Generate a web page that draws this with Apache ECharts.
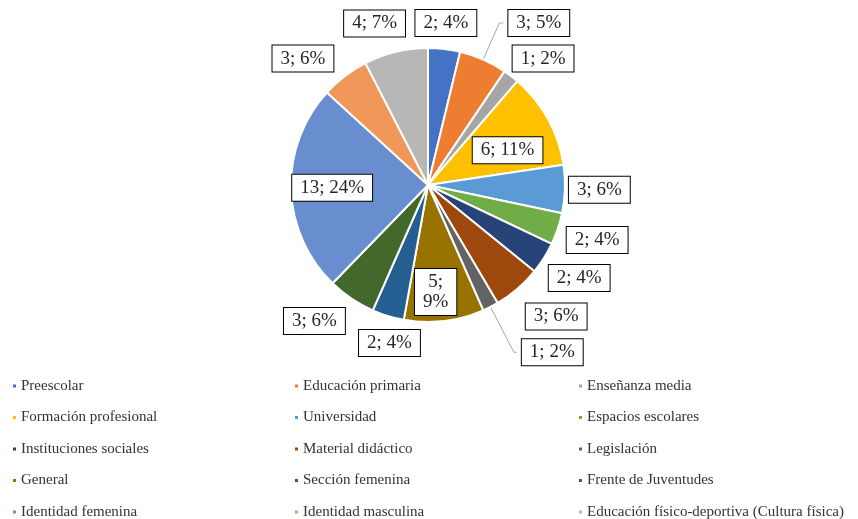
<!DOCTYPE html>
<html>
<head>
<meta charset="utf-8">
<script src="https://cdn.jsdelivr.net/npm/echarts@6/dist/echarts.min.js"></script>
<style>
html,body{margin:0;padding:0;background:#fff;}
#main{width:858px;height:519px;}
</style>
</head>
<body>
<div id="main"></div>
<script>
const categories = [
  'Preescolar', 'Educación primaria', 'Enseñanza media',
  'Formación profesional', 'Universidad', 'Espacios escolares',
  'Instituciones sociales', 'Material didáctico', 'Legislación',
  'General', 'Sección femenina', 'Frente de Juventudes',
  'Identidad femenina', 'Identidad masculina', 'Educación físico-deportiva (Cultura física)'
];
const values = [2, 3, 1, 6, 3, 2, 2, 3, 1, 5, 2, 3, 13, 3, 4];
const percents = [4, 5, 2, 11, 6, 4, 4, 6, 2, 9, 4, 6, 24, 6, 7];

const colors = ['#4472C4','#ED7D31','#A5A5A5','#FFC000','#5B9BD5','#70AD47',
  '#264478','#9E480E','#636363','#997300','#255E91','#43682B',
  '#698ED0','#F1975A','#B7B7B7'];

// layout config
const CX = 428, CY = 185, R = 137, OUT_D = 145;
const insideFrac = {3: 0.63, 9: 0.78, 12: 0.70};
const leaderLines = {1: [40, 4], 8: [51, 3]};
const wrapLabel = {9: true};
const nudge = {0:[-3,-4], 2:[8,0], 3:[4,7], 4:[-5,0], 5:[2,4], 6:[2,8], 7:[13,11],
  9:[-5,1], 10:[13,6], 11:[-15,4], 13:[-18,0], 14:[-12,-7]};

const total = values.reduce((a, b) => a + b, 0);
const midAngles = [];
let acc = 0;
values.forEach(v => { midAngles.push((acc + v / 2) / total * 2 * Math.PI); acc += v; });

const data = categories.map((name, i) => {
  const item = {name: name, value: values[i]};
  if (leaderLines[i]) {
    item.label = {position: 'outside'};
    item.labelLine = {show: true, length: leaderLines[i][0], length2: leaderLines[i][1]};
  } else if (insideFrac[i] !== undefined) {
    item.label = {position: 'inside'};
  }
  return item;
});

const legendCols = [0, 1, 2].map(c => ({
  type: 'plain',
  orient: 'vertical',
  left: [6, 288, 572][c],
  top: 373,
  height: 170,
  itemWidth: 5,
  itemHeight: 5,
  itemGap: 15.5,
  icon: 'rect',
  selectedMode: false,
  textStyle: {fontFamily: 'Liberation Serif', fontSize: 15, color: '#333333', lineHeight: 16, padding: [0, 0, 0, -1]},
  data: categories.filter((_, i) => i % 3 === c)
}));

const chart = echarts.init(document.getElementById('main'));
chart.setOption({
  animation: false,
  color: colors,
  legend: legendCols,
  series: [{
    type: 'pie',
    center: [CX, CY],
    radius: [0, R],
    startAngle: 90,
    clockwise: true,
    avoidLabelOverlap: false,
    itemStyle: {borderColor: '#fff', borderWidth: 2},
    label: {
      show: true,
      position: 'outside',
      formatter: p => p.value + ';' + (wrapLabel[p.dataIndex] ? '\n' : ' ') + percents[p.dataIndex] + '%',
      fontFamily: 'Liberation Serif',
      fontSize: 19,
      lineHeight: 20,
      color: '#262626',
      backgroundColor: '#fff',
      borderColor: '#000',
      borderWidth: 1,
      padding: [3, 8],
      align: 'center'
    },
    labelLine: {show: false, lineStyle: {color: '#A6A6A6', width: 1}},
    emphasis: {disabled: true},
    labelLayout: function (params) {
      const i = params.dataIndex;
      if (leaderLines[i]) return {};
      const a = midAngles[i];
      const s = Math.sin(a), c = -Math.cos(a);
      const w = params.labelRect.width, h = params.labelRect.height;
      let x, y;
      if (insideFrac[i] !== undefined) {
        x = CX + R * insideFrac[i] * s;
        y = CY + R * insideFrac[i] * c;
      } else {
        x = CX + OUT_D * s + s * w / 2;
        y = CY + OUT_D * c + c * h / 2;
      }
      const n = nudge[i] || [0, 0];
      return {x: x + n[0], y: y + n[1], align: 'center', verticalAlign: 'middle'};
    },
    data: data
  }]
});
</script>
</body>
</html>
